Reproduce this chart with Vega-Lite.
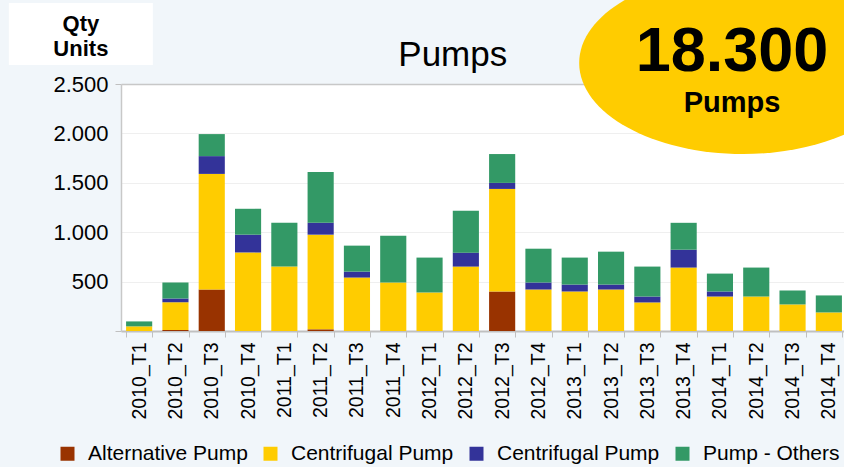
{
  "$schema": "https://vega.github.io/schema/vega-lite/v6.json",
  "width": 726,
  "height": 247,
  "autosize": {"type": "none"},
  "padding": {"left": 121, "top": 84, "right": 0, "bottom": 136},
  "background": "#f1f6fa",
  "config": {"view": {"fill": "white", "stroke": null}, "font": "Liberation Sans"},
  "datasets": {
    "pumps": [
      {"quarter": "2010_T1", "type": "Centrifugal Pump", "o": 2, "qty": 47},
      {"quarter": "2010_T1", "type": "Pump - Others", "o": 4, "qty": 50},
      {"quarter": "2010_T2", "type": "Alternative Pump", "o": 1, "qty": 10},
      {"quarter": "2010_T2", "type": "Centrifugal Pump", "o": 2, "qty": 280},
      {"quarter": "2010_T2", "type": "Centrifugal Pump (2)", "o": 3, "qty": 40},
      {"quarter": "2010_T2", "type": "Pump - Others", "o": 4, "qty": 162},
      {"quarter": "2010_T3", "type": "Alternative Pump", "o": 1, "qty": 420},
      {"quarter": "2010_T3", "type": "Centrifugal Pump", "o": 2, "qty": 1170},
      {"quarter": "2010_T3", "type": "Centrifugal Pump (2)", "o": 3, "qty": 180},
      {"quarter": "2010_T3", "type": "Pump - Others", "o": 4, "qty": 223},
      {"quarter": "2010_T4", "type": "Centrifugal Pump", "o": 2, "qty": 795},
      {"quarter": "2010_T4", "type": "Centrifugal Pump (2)", "o": 3, "qty": 180},
      {"quarter": "2010_T4", "type": "Pump - Others", "o": 4, "qty": 262},
      {"quarter": "2011_T1", "type": "Centrifugal Pump", "o": 2, "qty": 652},
      {"quarter": "2011_T1", "type": "Pump - Others", "o": 4, "qty": 444},
      {"quarter": "2011_T2", "type": "Alternative Pump", "o": 1, "qty": 17},
      {"quarter": "2011_T2", "type": "Centrifugal Pump", "o": 2, "qty": 958},
      {"quarter": "2011_T2", "type": "Centrifugal Pump (2)", "o": 3, "qty": 121},
      {"quarter": "2011_T2", "type": "Pump - Others", "o": 4, "qty": 514},
      {"quarter": "2011_T3", "type": "Centrifugal Pump", "o": 2, "qty": 541},
      {"quarter": "2011_T3", "type": "Centrifugal Pump (2)", "o": 3, "qty": 60},
      {"quarter": "2011_T3", "type": "Pump - Others", "o": 4, "qty": 263},
      {"quarter": "2011_T4", "type": "Centrifugal Pump", "o": 2, "qty": 491},
      {"quarter": "2011_T4", "type": "Pump - Others", "o": 4, "qty": 473},
      {"quarter": "2012_T1", "type": "Centrifugal Pump", "o": 2, "qty": 390},
      {"quarter": "2012_T1", "type": "Pump - Others", "o": 4, "qty": 353},
      {"quarter": "2012_T2", "type": "Centrifugal Pump", "o": 2, "qty": 652},
      {"quarter": "2012_T2", "type": "Centrifugal Pump (2)", "o": 3, "qty": 141},
      {"quarter": "2012_T2", "type": "Pump - Others", "o": 4, "qty": 423},
      {"quarter": "2012_T3", "type": "Alternative Pump", "o": 1, "qty": 400},
      {"quarter": "2012_T3", "type": "Centrifugal Pump", "o": 2, "qty": 1038},
      {"quarter": "2012_T3", "type": "Centrifugal Pump (2)", "o": 3, "qty": 61},
      {"quarter": "2012_T3", "type": "Pump - Others", "o": 4, "qty": 292},
      {"quarter": "2012_T4", "type": "Centrifugal Pump", "o": 2, "qty": 420},
      {"quarter": "2012_T4", "type": "Centrifugal Pump (2)", "o": 3, "qty": 71},
      {"quarter": "2012_T4", "type": "Pump - Others", "o": 4, "qty": 342},
      {"quarter": "2013_T1", "type": "Centrifugal Pump", "o": 2, "qty": 400},
      {"quarter": "2013_T1", "type": "Centrifugal Pump (2)", "o": 3, "qty": 70},
      {"quarter": "2013_T1", "type": "Pump - Others", "o": 4, "qty": 273},
      {"quarter": "2013_T2", "type": "Centrifugal Pump", "o": 2, "qty": 420},
      {"quarter": "2013_T2", "type": "Centrifugal Pump (2)", "o": 3, "qty": 50},
      {"quarter": "2013_T2", "type": "Pump - Others", "o": 4, "qty": 333},
      {"quarter": "2013_T3", "type": "Centrifugal Pump", "o": 2, "qty": 289},
      {"quarter": "2013_T3", "type": "Centrifugal Pump (2)", "o": 3, "qty": 60},
      {"quarter": "2013_T3", "type": "Pump - Others", "o": 4, "qty": 303},
      {"quarter": "2013_T4", "type": "Centrifugal Pump", "o": 2, "qty": 642},
      {"quarter": "2013_T4", "type": "Centrifugal Pump (2)", "o": 3, "qty": 181},
      {"quarter": "2013_T4", "type": "Pump - Others", "o": 4, "qty": 272},
      {"quarter": "2014_T1", "type": "Centrifugal Pump", "o": 2, "qty": 349},
      {"quarter": "2014_T1", "type": "Centrifugal Pump (2)", "o": 3, "qty": 51},
      {"quarter": "2014_T1", "type": "Pump - Others", "o": 4, "qty": 181},
      {"quarter": "2014_T2", "type": "Centrifugal Pump", "o": 2, "qty": 349},
      {"quarter": "2014_T2", "type": "Pump - Others", "o": 4, "qty": 293},
      {"quarter": "2014_T3", "type": "Centrifugal Pump", "o": 2, "qty": 269},
      {"quarter": "2014_T3", "type": "Pump - Others", "o": 4, "qty": 141},
      {"quarter": "2014_T4", "type": "Centrifugal Pump", "o": 2, "qty": 188},
      {"quarter": "2014_T4", "type": "Pump - Others", "o": 4, "qty": 172}
    ],
    "notes": [
      {"kind": "ellipse", "quarter": "2014_T2", "qty": 2713},
      {"kind": "box", "quarter": "2010_T1", "qty": 3006},
      {"kind": "unit", "quarter": "2010_T1", "qty": 3037, "label": "Qty"},
      {"kind": "unit", "quarter": "2010_T1", "qty": 2784, "label": "Units"},
      {"kind": "title", "quarter": "2012_T2", "qty": 2682, "label": "Pumps"},
      {"kind": "big", "quarter": "2014_T1", "qty": 2635, "label": "18.300"},
      {"kind": "sub", "quarter": "2014_T1", "qty": 2212, "label": "Pumps"}
    ]
  },
  "layer": [
    {
      "data": {"name": "pumps"},
      "mark": {"type": "bar"},
      "encoding": {
        "x": {
          "field": "quarter", "type": "nominal",
          "scale": {"paddingInner": 0.28, "paddingOuter": 0.14},
          "axis": {
            "title": null, "labelAngle": -90, "labelAlign": "right", "labelBaseline": "middle",
            "labelFontSize": 19.5, "labelColor": "black", "labelPadding": 5,
            "tickBand": "extent", "tickSize": 6, "tickColor": "#c0c0c0",
            "domainColor": "#c0c0c0", "domainWidth": 2, "grid": false
          }
        },
        "y": {
          "field": "qty", "type": "quantitative", "stack": "zero",
          "scale": {"domain": [0, 2500], "nice": false},
          "axis": {
            "values": [0, 500, 1000, 1500, 2000, 2500],
            "labelExpr": "datum.value == 0 ? '' : replace(format(datum.value, ','), ',', '.')",
            "labelFontSize": 22, "labelColor": "black", "labelPadding": 7,
            "tickSize": 6, "tickColor": "#c0c0c0",
            "tickOpacity": {"condition": {"test": "datum.value == 0 || datum.value == 2500", "value": 1}, "value": 0},
            "domainColor": "#c8c8c8", "domainWidth": 1.5,
            "grid": true,
            "gridColor": {"condition": {"test": "datum.value == 2500", "value": "#c8c8c8"}, "value": "#efefef"},
            "gridWidth": {"condition": {"test": "datum.value == 2500", "value": 1.5}, "value": 1},
            "title": null
          }
        },
        "color": {
          "field": "type", "type": "nominal",
          "scale": {
            "domain": ["Alternative Pump", "Centrifugal Pump", "Centrifugal Pump (2)", "Pump - Others"],
            "range": ["#993300", "#FFCC00", "#333399", "#339966"]
          },
          "legend": {
            "orient": "none", "legendX": -64, "legendY": 359, "direction": "horizontal",
            "title": null, "symbolType": "square", "symbolSize": 196, "symbolStrokeWidth": 0,
            "symbolOpacity": 1,
            "labelFontSize": 21, "labelColor": "black", "labelOffset": 10, "labelLimit": 0,
            "columnPadding": 12, "padding": 0,
            "labelExpr": "replace(datum.label, ' (2)', '')"
          }
        },
        "order": {"field": "o", "type": "quantitative"}
      }
    },
    {
      "data": {"name": "notes"},
      "transform": [{"filter": "datum.kind == 'ellipse'"}],
      "mark": {
        "type": "point", "shape": "M-1,0A1,0.555,0,1,1,1,0A1,0.555,0,1,1,-1,0Z",
        "filled": true, "color": "#FFCC00", "opacity": 1, "size": 107584, "strokeWidth": 0
      },
      "encoding": {
        "x": {"field": "quarter", "type": "nominal", "bandPosition": 0},
        "y": {"field": "qty", "type": "quantitative"}
      }
    },
    {
      "data": {"name": "notes"},
      "transform": [{"filter": "datum.kind == 'box'"}],
      "mark": {
        "type": "point", "shape": "M-1,-0.43H1V0.43H-1Z",
        "filled": true, "color": "white", "opacity": 1, "size": 20736, "strokeWidth": 0
      },
      "encoding": {
        "x": {"field": "quarter", "type": "nominal", "bandPosition": -1.73},
        "y": {"field": "qty", "type": "quantitative"}
      }
    },
    {
      "data": {"name": "notes"},
      "transform": [{"filter": "datum.kind == 'unit'"}],
      "mark": {"type": "text", "fontSize": 22, "fontWeight": "bold", "align": "center", "baseline": "alphabetic", "color": "black"},
      "encoding": {
        "x": {"field": "quarter", "type": "nominal", "bandPosition": -1.73},
        "y": {"field": "qty", "type": "quantitative"},
        "text": {"field": "label"}
      }
    },
    {
      "data": {"name": "notes"},
      "transform": [{"filter": "datum.kind == 'title'"}],
      "mark": {"type": "text", "fontSize": 35, "align": "center", "baseline": "alphabetic", "color": "black"},
      "encoding": {
        "x": {"field": "quarter", "type": "nominal", "bandPosition": 0},
        "y": {"field": "qty", "type": "quantitative"},
        "text": {"field": "label"}
      }
    },
    {
      "data": {"name": "notes"},
      "transform": [{"filter": "datum.kind == 'big'"}],
      "mark": {"type": "text", "fontSize": 63, "fontWeight": "bold", "align": "center", "baseline": "alphabetic", "color": "black"},
      "encoding": {
        "x": {"field": "quarter", "type": "nominal", "bandPosition": 0.96},
        "y": {"field": "qty", "type": "quantitative"},
        "text": {"field": "label"}
      }
    },
    {
      "data": {"name": "notes"},
      "transform": [{"filter": "datum.kind == 'sub'"}],
      "mark": {"type": "text", "fontSize": 29, "fontWeight": "bold", "align": "center", "baseline": "alphabetic", "color": "black"},
      "encoding": {
        "x": {"field": "quarter", "type": "nominal", "bandPosition": 0.96},
        "y": {"field": "qty", "type": "quantitative"},
        "text": {"field": "label"}
      }
    }
  ]
}
